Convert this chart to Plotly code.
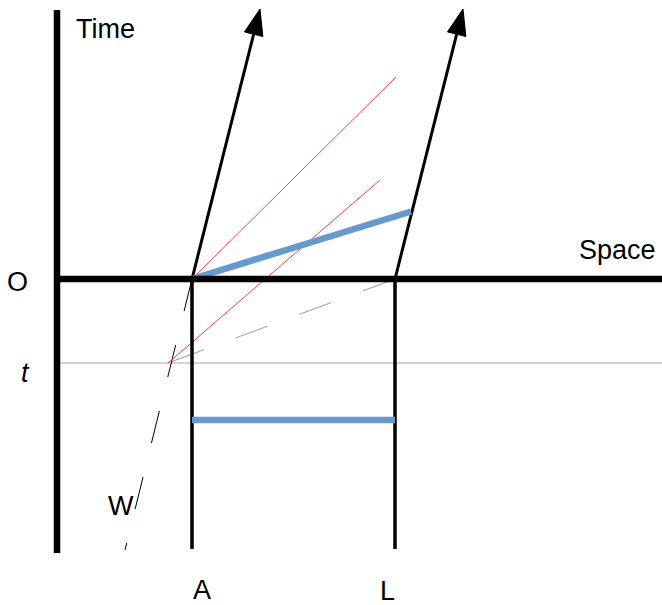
import math
import plotly.graph_objects as go

# Diagram coordinates: space (x) from the time axis, time (t) from the space axis
time_axis_x = [0, 0]
time_axis_t = [269, -274]
space_axis_x = [0, 605]
space_axis_t = [0, 0]

A_x = 135
L_x = 338
rod_bottom_t = -270

A_arrow_x = [A_x, 203]
A_arrow_t = [0, 270]
L_arrow_x = [L_x, 406]
L_arrow_t = [0, 270]

moving_rod_x = [A_x, 354]
moving_rod_t = [0, 67.5]
rest_rod_x = [A_x, L_x]
rest_rod_t = [-141, -141]

light1_x = [A_x, 339]
light1_t = [0, 202]
light2_x = [111, 323]
light2_t = [-84, 99]

t_line_x = [0, 605]
t_line_t = [-84, -84]

simul_x = [L_x, 111]
simul_t = [0, -84]

W_x = [A_x, 68]
W_t = [0, -271]

labels = ["Time", "Space", "O", "<i>t</i>", "W", "A", "L"]
label_x = [17, 520, -39.5, -32, 63.5, 144.7, 330.7]
label_t = [250, 29, -3, -94, -226.5, -311, -312]
label_anchor = ["left", "left", "center", "center", "center", "center", "center"]

HEAD_LEN = 26
HEAD_HALF = 9.5

fig = go.Figure()

def seg(x, y, color, width, dash="solid"):
    fig.add_trace(go.Scatter(x=x, y=y, mode="lines",
                             line=dict(color=color, width=width, dash=dash),
                             hoverinfo="skip", showlegend=False))

seg(t_line_x, t_line_t, "#A6A6A6", 1)
seg(simul_x, simul_t, "#9A9A9A", 1, "34px,34px")
seg(W_x, W_t, "black", 1, "33px,35px")
seg(light1_x, light1_t, "#FF3B3B", 1)
seg(light2_x, light2_t, "#FF3B3B", 1)
seg([A_x, A_x], [0, rod_bottom_t], "black", 3.5)
seg([L_x, L_x], [0, rod_bottom_t], "black", 3.5)

for ax_, at_ in [(A_arrow_x, A_arrow_t), (L_arrow_x, L_arrow_t)]:
    dx, dy = ax_[1] - ax_[0], at_[1] - at_[0]
    n = math.hypot(dx, dy)
    ux, uy = dx / n, dy / n
    bx, by = ax_[1] - HEAD_LEN * ux, at_[1] - HEAD_LEN * uy
    px, py = -uy, ux
    seg([ax_[0], bx + 4 * ux], [at_[0], by + 4 * uy], "black", 3)
    fig.add_trace(go.Scatter(
        x=[ax_[1], bx + HEAD_HALF * px, bx - HEAD_HALF * px, ax_[1]],
        y=[at_[1], by + HEAD_HALF * py, by - HEAD_HALF * py, at_[1]],
        mode="lines", fill="toself", fillcolor="black",
        line=dict(color="black", width=1), hoverinfo="skip", showlegend=False))

seg(moving_rod_x, moving_rod_t, "#6699CC", 6.5)
seg(rest_rod_x, rest_rod_t, "#6699CC", 6.5)
seg(space_axis_x, space_axis_t, "black", 6.5)
seg(time_axis_x, time_axis_t, "black", 6.5)

for txt, x, y, anc in zip(labels, label_x, label_t, label_anchor):
    fig.add_annotation(x=x, y=y, text=txt, showarrow=False, xanchor=anc, yanchor="middle",
                       font=dict(family="Liberation Sans, Arial, sans-serif", size=27, color="black"))

fig.update_layout(
    width=662, height=605,
    margin=dict(l=0, r=0, t=0, b=0),
    plot_bgcolor="white", paper_bgcolor="white",
    xaxis=dict(range=[-57, 605], visible=False, fixedrange=True),
    yaxis=dict(range=[-326, 279], visible=False, fixedrange=True),
)

fig.write_html("out.html", config={"displayModeBar": False},
               post_script="document.body.style.margin='0';document.body.style.overflow='hidden';")
